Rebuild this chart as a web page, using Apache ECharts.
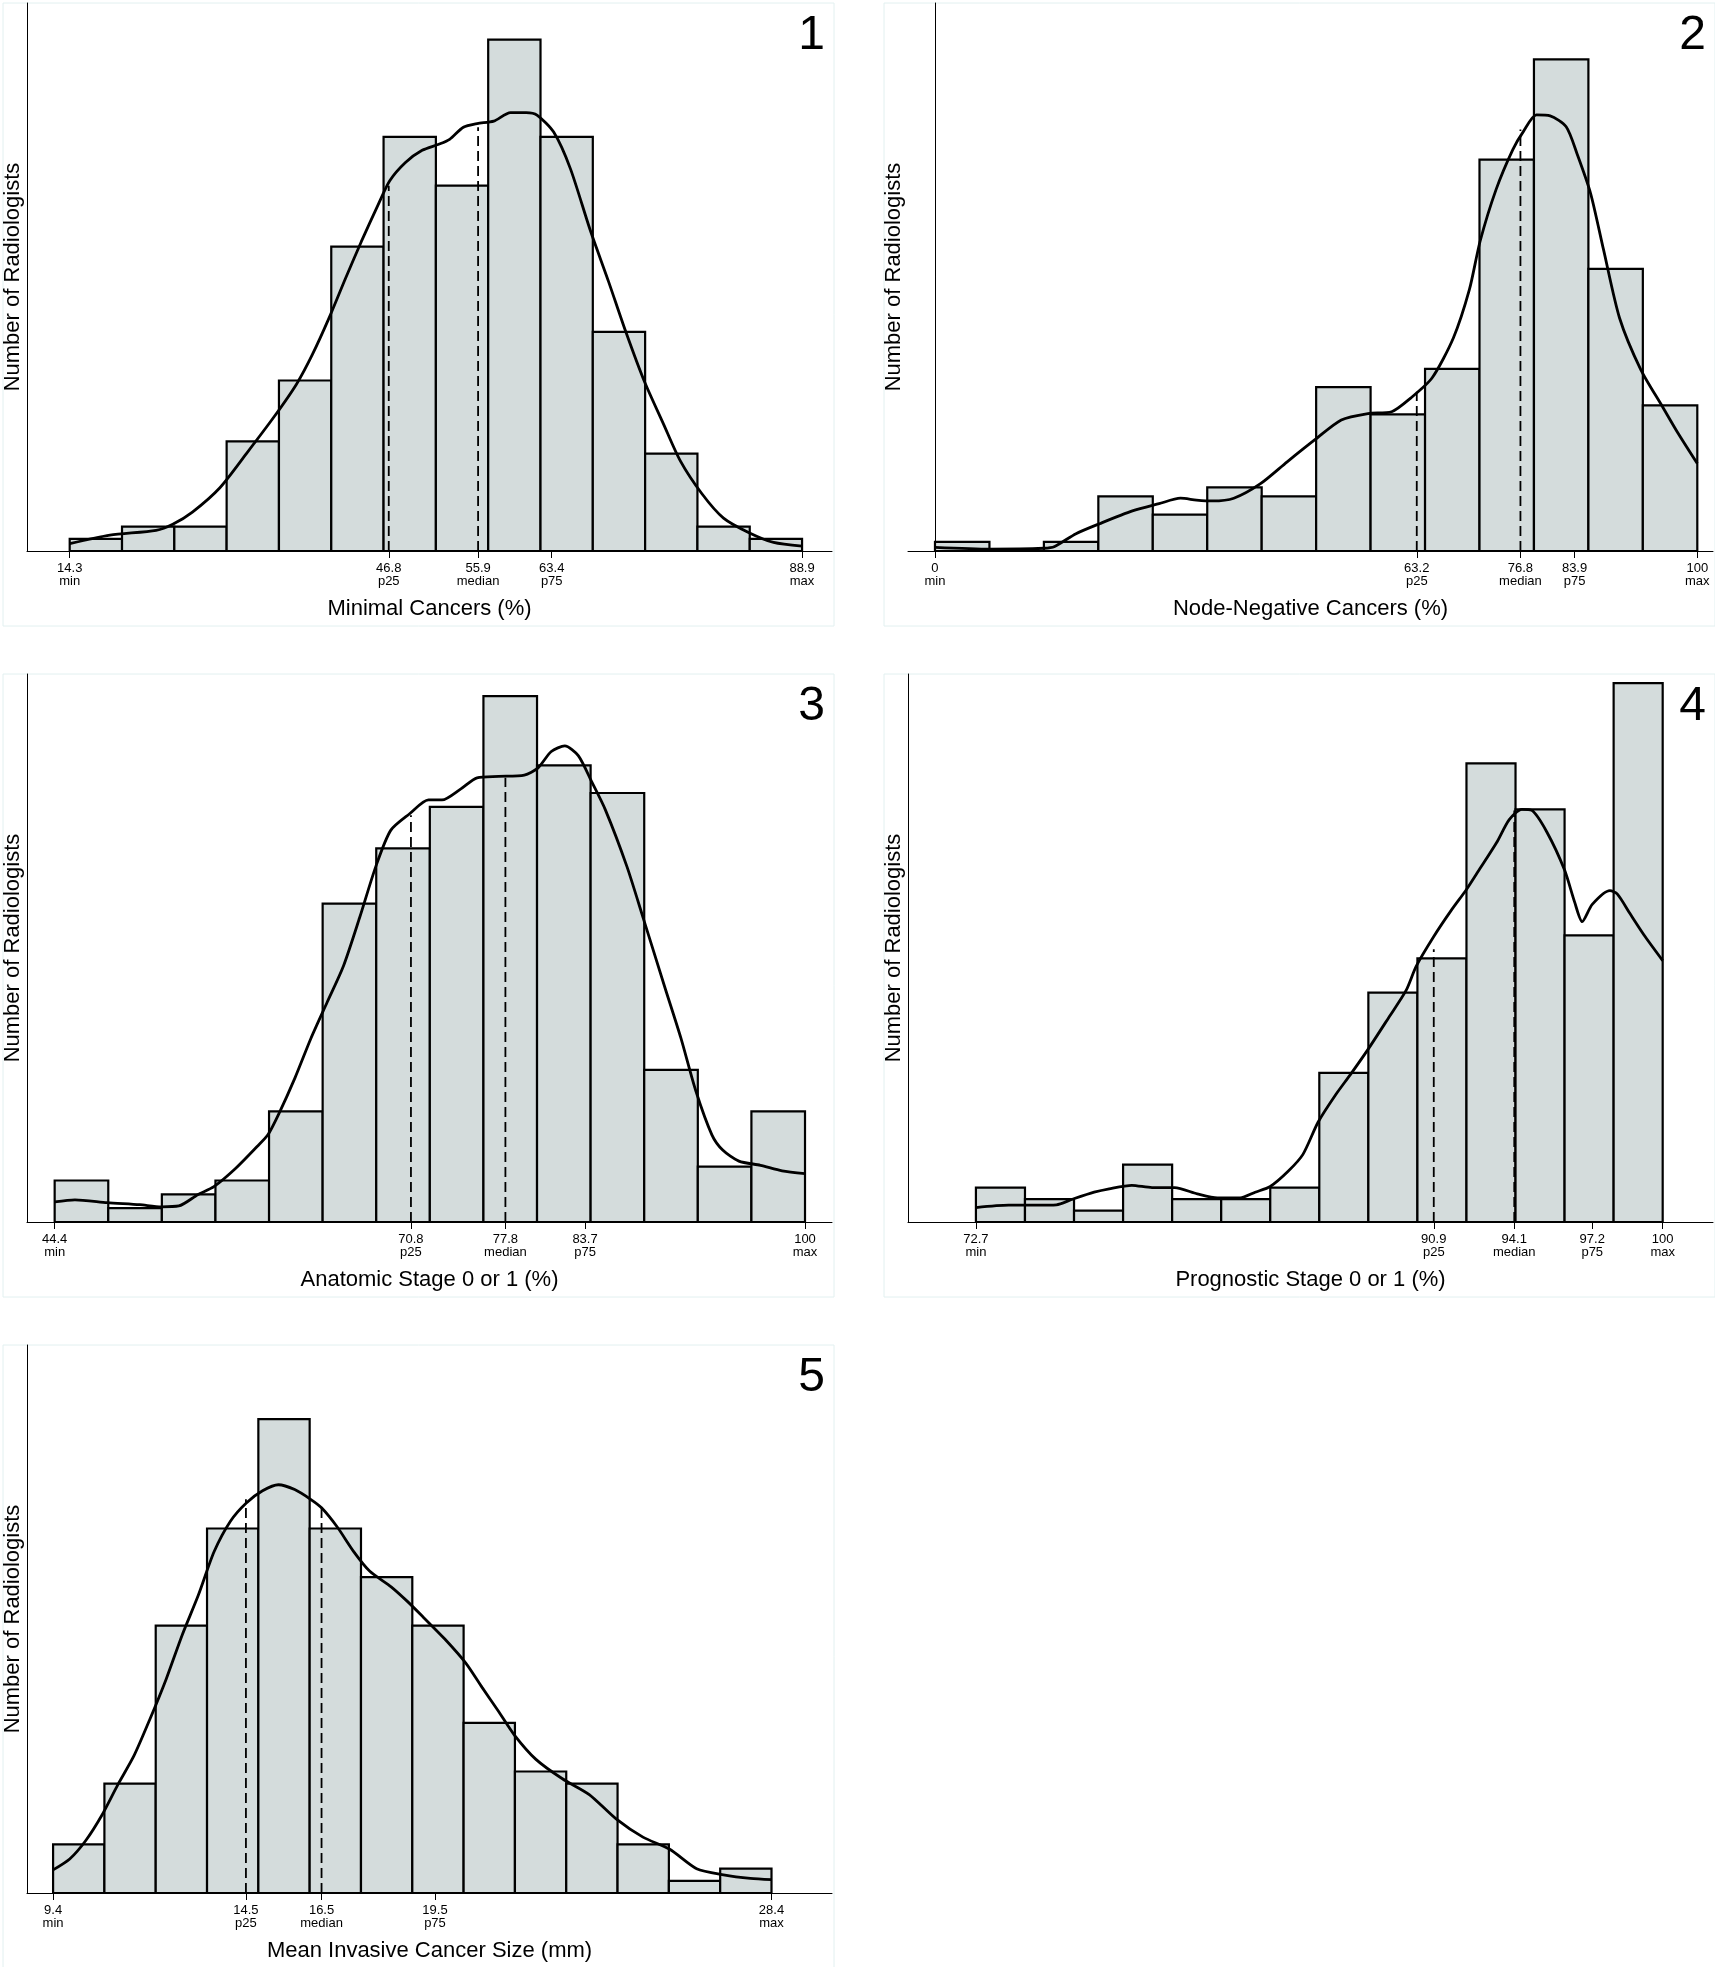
<!DOCTYPE html>
<html>
<head>
<meta charset="utf-8">
<script src="https://cdn.jsdelivr.net/npm/echarts@6/dist/echarts.min.js"></script>
<style>
  html, body { margin: 0; padding: 0; background: #fff; }
  #chart { width: 1715px; height: 1967px; }
</style>
</head>
<body>
<div id="chart"></div>
<script>
// ---- data (counts per bin, 14 bins each) ----
const statNames = ['min', 'p25', 'median', 'p75', 'max']

// 1. Minimal cancers
const p1Title = 'Minimal Cancers (%)'
const p1Stats = [14.3, 46.8, 55.9, 63.4, 88.9]
const p1Counts = [1, 2, 2, 9, 14, 25, 34, 30, 42, 34, 18, 8, 2, 1]
const p1Dash = [30.0, 34.8]
const p1Curve = [[14.3,0.6],[18.4,1.3],[23.1,1.7],[24.8,2.2],[26.8,3.2],[29.6,5.2],[32.3,8.0],[35.1,11.0],
  [37.4,13.7],[39.0,16.1],[40.7,19.1],[42.4,22.4],[44.0,25.4],[45.7,28.4],[46.9,30.4],[48.5,31.9],
  [50.2,32.9],[51.9,33.4],[53.0,33.8],[54.4,34.8],[55.8,35.1],[57.5,35.3],[59.2,36.0],[60.8,36.0],
  [61.9,35.8],[63.6,34.4],[65.3,31.4],[67.3,26.4],[69.2,22.1],[70.9,18.1],[72.8,14.0],[74.8,10.4],
  [76.5,7.4],[78.7,4.7],[80.9,2.7],[83.5,1.5],[86.0,0.7],[88.9,0.4]]

// 2. Node-negative cancers
const p2Title = 'Node-Negative Cancers (%)'
const p2Stats = [0, 63.2, 76.8, 83.9, 100]
const p2Counts = [1, 0, 1, 6, 4, 7, 6, 18, 15, 20, 43, 54, 31, 16]
const p2Dash = [17.5, 46.3]
const p2Curve = [[0,0.4],[7.2,0.2],[14.3,0.3],[15.7,0.5],[18.5,1.9],[21.6,3.0],[25.9,4.4],[29.4,5.2],
  [32.2,5.8],[34.3,5.6],[36.4,5.5],[39.2,5.8],[42.7,7.4],[46.2,9.8],[49.8,12.2],[53.3,14.4],[56.8,15.1],
  [59.9,15.3],[62.4,16.8],[65.2,19.0],[68.0,23.4],[70.1,28.7],[71.5,34.0],[73.6,39.7],[75.8,44.1],
  [77.2,46.1],[78.9,47.9],[80.7,47.8],[82.8,46.6],[84.2,43.7],[86.0,39.3],[87.7,33.1],[89.8,25.6],
  [92.6,19.9],[95.4,15.9],[97.5,12.9],[100,9.6]]

// 3. Anatomic stage 0 or 1
const p3Title = 'Anatomic Stage 0 or 1 (%)'
const p3Stats = [44.4, 70.8, 77.8, 83.7, 100]
const p3Counts = [3, 1, 2, 3, 8, 23, 27, 30, 38, 33, 31, 11, 4, 8]
const p3Dash = [29.4, 32.1]
const p3Curve = [[44.4,1.45],[45.9,1.6],[48.3,1.4],[50.7,1.25],[52.3,1.1],[53.6,1.16],[55.0,1.97],
  [56.2,2.55],[57.8,3.86],[59.4,5.45],[60.2,6.3],[61.0,7.8],[62.2,10.4],[63.4,13.3],[64.6,15.9],
  [65.8,18.5],[67.0,22.0],[68.2,25.7],[69.3,28.3],[70.7,29.5],[72.1,30.5],[73.1,30.5],[74.5,31.3],
  [75.7,32.1],[77.3,32.2],[79.2,32.3],[80.2,32.8],[81.2,34.0],[82.2,34.4],[83.2,33.7],[84.2,31.8],
  [85.2,29.8],[86.8,25.7],[88.0,22.0],[89.6,17.0],[90.8,13.3],[91.9,9.5],[93.1,6.3],[93.9,5.2],
  [95.1,4.4],[96.7,4.1],[98.3,3.7],[100,3.5]]

// 4. Prognostic stage 0 or 1
const p4Title = 'Prognostic Stage 0 or 1 (%)'
const p4Stats = [72.7, 90.9, 94.1, 97.2, 100]
const p4Counts = [3, 2, 1, 5, 2, 2, 3, 13, 20, 23, 40, 36, 25, 47]
const p4Dash = [23.8, 35.9]
const p4Curve = [[72.7,1.26],[74.0,1.47],[75.1,1.47],[75.9,1.5],[76.5,1.96],[77.4,2.6],[78.0,2.9],
  [78.9,3.2],[79.7,3.0],[80.6,3.0],[81.5,2.45],[82.3,2.1],[83.2,2.1],[83.8,2.6],[84.4,3.1],[85.1,4.4],
  [85.7,5.9],[86.3,8.7],[87.0,11.1],[87.6,12.9],[88.3,15.1],[89.1,17.8],[89.8,20.2],[90.2,22.3],
  [90.9,24.9],[91.6,27.2],[92.2,29.0],[92.7,30.7],[93.4,33.1],[93.9,35.1],[94.4,36.0],[94.8,35.9],
  [95.4,34.0],[96.1,30.7],[96.5,27.9],[96.8,26.2],[97.2,27.7],[97.9,28.9],[98.2,28.6],[98.7,26.9],
  [99.3,24.9],[100,22.8]]

// 5. Mean invasive cancer size
const p5Title = 'Mean Invasive Cancer Size (mm)'
const p5Stats = [9.4, 14.5, 16.5, 19.5, 28.4]
const p5Counts = [4, 9, 22, 30, 39, 30, 26, 22, 14, 10, 9, 4, 1, 2]
const p5Dash = [32.4, 31.7]
const p5Curve = [[9.4,1.9],[9.84,2.8],[10.26,4.3],[10.69,6.4],[11.11,8.9],[11.54,11.3],[11.96,14.3],
  [12.39,17.6],[12.81,21.2],[13.24,24.5],[13.66,28.1],[14.09,30.6],[14.51,32.1],[14.94,33.1],
  [15.36,33.6],[15.79,33.2],[16.21,32.4],[16.5,31.7],[16.92,30.1],[17.35,28.1],[17.77,26.5],
  [18.34,25.2],[18.77,24.0],[19.19,22.7],[19.76,20.9],[20.32,18.9],[20.75,16.9],[21.17,15.0],
  [21.6,13.0],[22.17,11.0],[22.87,9.4],[23.58,8.1],[24.29,6.1],[25.0,4.6],[25.71,3.6],[26.42,2.0],
  [27.13,1.5],[27.84,1.2],[28.4,1.1]]

// axis extents as they appear in each panel
const xRanges = [[9.95, 91.95], [-3.54, 102.06], [42.35, 102.0], [70.0, 102.0], [8.71, 30.0]]
const yMax = [45, 60.2, 39.6, 47.8, 45.1]

const panels = [
    {title: p1Title, stats: p1Stats, counts: p1Counts, dash: p1Dash, curve: p1Curve},
    {title: p2Title, stats: p2Stats, counts: p2Counts, dash: p2Dash, curve: p2Curve},
    {title: p3Title, stats: p3Stats, counts: p3Counts, dash: p3Dash, curve: p3Curve},
    {title: p4Title, stats: p4Stats, counts: p4Counts, dash: p4Dash, curve: p4Curve},
    {title: p5Title, stats: p5Stats, counts: p5Counts, dash: p5Dash, curve: p5Curve}
]

// ---- layout ----
const panelLeft = [1, 882, 1, 882, 1]
const panelTop = [1, 1, 672, 672, 1343]
const panelW = 831, panelH = 623
const barFill = '#d4dcdc'
const font = 'Liberation Sans, Arial, sans-serif'

let grids = [], xAxes = [], yAxes = [], series = [], graphics = []

panels.forEach((p, i) => {
    let stats = p.stats
    grids.push({
        left: panelLeft[i] + 26,
        top: panelTop[i] + 2,
        width: panelW - 26,
        height: 548
    })
    xAxes.push({
        type: 'value',
        gridIndex: i,
        min: xRanges[i][0],
        max: xRanges[i][1],
        splitLine: {show: false},
        axisLine: {onZero: false, lineStyle: {color: '#000', width: 1}},
        axisTick: {customValues: stats, length: 7, lineStyle: {color: '#000', width: 1}},
        axisLabel: {
            customValues: stats,
            margin: 11,
            fontSize: 13,
            lineHeight: 13,
            color: '#000',
            fontFamily: font,
            formatter: v => {
                let k = stats.findIndex(s => Math.abs(s - v) < 1e-6)
                return String(v) + '\n' + statNames[k]
            }
        },
        name: p.title,
        nameLocation: 'middle',
        nameGap: 47,
        nameTextStyle: {fontSize: 22, color: '#000', fontFamily: font}
    })
    yAxes.push({
        type: 'value',
        gridIndex: i,
        min: 0,
        max: yMax[i],
        splitLine: {show: false},
        axisTick: {show: false},
        axisLabel: {show: false},
        axisLine: {show: true, lineStyle: {color: '#000', width: 1}},
        name: 'Number of Radiologists',
        nameLocation: 'middle',
        nameGap: 3,
        nameTextStyle: {fontSize: 22, color: '#000', fontFamily: font}
    })

    // histogram bins: 14 equal bins from min to max
    let lo = stats[0], hi = stats[4]
    let bw = (hi - lo) / p.counts.length
    let bins = p.counts.map((c, k) => [lo + k * bw, lo + (k + 1) * bw, c])
    series.push({
        type: 'custom',
        xAxisIndex: i,
        yAxisIndex: i,
        data: bins,
        encode: {x: [0, 1], y: 2},
        z: 2,
        renderItem: (params, api) => {
            let a = api.coord([api.value(0), api.value(2)])
            let b = api.coord([api.value(1), 0])
            return {
                type: 'rect',
                shape: {x: a[0], y: a[1], width: b[0] - a[0], height: b[1] - a[1]},
                style: {fill: barFill, stroke: '#000', lineWidth: 2.2}
            }
        }
    })

    // dashed lines at p25 and median
    series.push({
        type: 'custom',
        xAxisIndex: i,
        yAxisIndex: i,
        data: [[stats[1], p.dash[0]], [stats[2], p.dash[1]]],
        z: 3,
        renderItem: (params, api) => {
            let a = api.coord([api.value(0), 0])
            let b = api.coord([api.value(0), api.value(1)])
            return {
                type: 'line',
                shape: {x1: a[0], y1: a[1], x2: b[0], y2: b[1]},
                style: {stroke: '#000', lineWidth: 1.8, lineDash: [10, 5]}
            }
        }
    })

    // density curve
    series.push({
        type: 'line',
        xAxisIndex: i,
        yAxisIndex: i,
        data: p.curve,
        showSymbol: false,
        smooth: 0.25,
        z: 4,
        lineStyle: {color: '#000', width: 2.8}
    })

    // panel frame and number
    graphics.push({
        type: 'rect',
        left: panelLeft[i] - 0.5,
        top: panelTop[i] - 0.5,
        shape: {width: panelW, height: panelH},
        style: {fill: 'none', stroke: '#e2f0f0', lineWidth: 1},
        silent: true
    })
    graphics.push({
        type: 'text',
        x: panelLeft[i] + 824,
        y: panelTop[i] + 35,
        style: {
            text: String(i + 1),
            fontSize: 48,
            fontFamily: font,
            fill: '#000',
            align: 'right',
            verticalAlign: 'middle'
        },
        z: 10
    })
})

let chart = echarts.init(document.getElementById('chart'))
chart.setOption({
    animation: false,
    backgroundColor: '#fff',
    grid: grids,
    xAxis: xAxes,
    yAxis: yAxes,
    series: series,
    graphic: graphics
})
</script>
</body>
</html>
